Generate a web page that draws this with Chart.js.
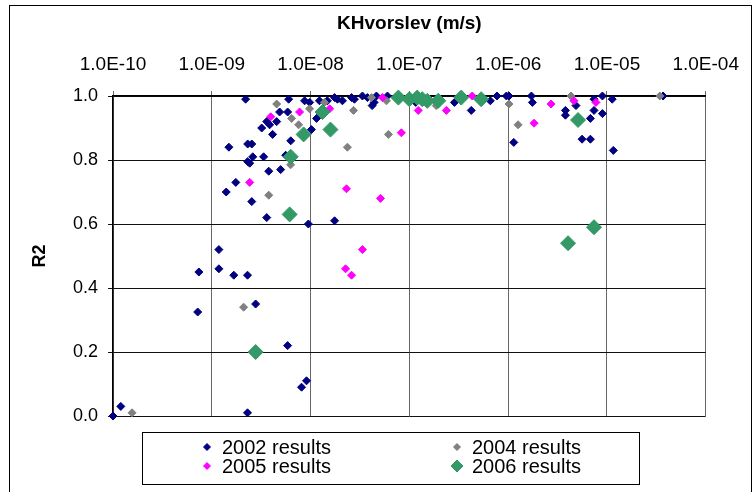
<!DOCTYPE html>
<html>
<head>
<meta charset="utf-8">
<script src="https://cdn.jsdelivr.net/npm/chart.js@4/dist/chart.umd.min.js"></script>
<style>
  html, body { margin: 0; padding: 0; background: #fff; }
  #wrap { width: 754px; height: 492px; }
</style>
</head>
<body>
<div id="wrap"><canvas id="c" width="754" height="492"></canvas></div>
<script>
// ---- data ----
const seriesNames = ['2002 results', '2004 results', '2005 results', '2006 results'];

const k2002 = [1e-10, 1.2e-10, 7.2e-10, 7.4e-10, 1.18e-9, 1.18e-9, 1.67e-9, 2.3e-9, 2.78e-9, 5.86e-9,
  8.1e-9, 9.1e-9, 2.3e-9, 1.4e-9, 1.49e-9, 1.75e-9, 2.54e-9, 3.6e-9, 9.5e-9, 1.75e-8,
  2.2e-9, 2.31e-9, 2.54e-9, 2.6e-9, 3.35e-9, 2.31e-9, 2.42e-9, 3.77e-9, 4.98e-9, 5.6e-9,
  6.3e-9, 4.13e-9, 3.2e-9, 3.6e-9, 3.85e-9, 4.54e-9, 4.86e-9, 5.86e-9, 1.02e-8, 1.15e-8,
  6.0e-9, 8.7e-9, 9.8e-9, 1.23e-8, 1.48e-8, 1.75e-8, 1.87e-8, 2.1e-8, 2.6e-8, 2.78e-8,
  3.35e-8, 3.77e-8, 4.2e-8, 4.4e-8, 4.64e-8, 6.0e-8, 1.16e-7, 2.86e-7, 4.23e-7, 6.6e-7,
  7.7e-7, 9.6e-7, 1.02e-6, 1.14e-6, 1.72e-6, 1.76e-6, 3.8e-6, 3.8e-6, 4.86e-6, 5.6e-6,
  6.8e-6, 6.8e-6, 7.4e-6, 7.4e-6, 9.0e-6, 9.0e-6, 1.13e-5, 1.16e-5, 3.7e-5];
const r2002 = [0.0, 0.03, 0.325, 0.45, 0.52, 0.46, 0.44, 0.44, 0.35, 0.22,
  0.09, 0.11, 0.01, 0.70, 0.84, 0.73, 0.67, 0.62, 0.60, 0.61,
  0.99, 0.85, 0.85, 0.81, 0.81, 0.795, 0.79, 0.765, 0.77, 0.815,
  0.86, 0.88, 0.90, 0.92, 0.91, 0.92, 0.95, 0.95, 0.895, 0.93,
  0.99, 0.985, 0.98, 0.985, 0.985, 0.995, 0.99, 0.985, 0.995, 0.99,
  1.0, 0.995, 0.97, 0.98, 1.0, 1.0, 0.98, 0.98, 0.955, 0.985,
  1.0, 1.0, 1.0, 0.855, 1.0, 0.98, 0.955, 0.94, 0.97, 0.865,
  0.865, 0.93, 0.99, 0.955, 1.0, 0.945, 0.99, 0.83, 1.0];

const k2004 = [1.56e-10, 2.1e-9, 3.77e-9, 4.54e-9, 6.28e-9, 6.43e-9, 7.57e-9, 9.77e-9, 1.38e-8, 2.36e-8,
  2.72e-8, 4.13e-8, 5.86e-8, 6.14e-8, 1.87e-7, 1.02e-6, 1.26e-6, 4.33e-6, 3.43e-5];
const r2004 = [0.01, 0.34, 0.69, 0.975, 0.785, 0.93, 0.91, 0.96, 0.98, 0.84,
  0.955, 0.995, 0.985, 0.88, 0.97, 0.975, 0.91, 1.0, 1.0];

const k2005 = [2.42e-9, 3.95e-9, 7.74e-9, 1.56e-8, 2.26e-8, 2.31e-8, 2.6e-8, 3.35e-8, 5.1e-8, 5.33e-8,
  8.3e-8, 1.23e-7, 2.37e-7, 4.33e-7, 1.83e-6, 2.72e-6, 4.64e-6, 7.74e-6];
const r2005 = [0.73, 0.935, 0.95, 0.96, 0.46, 0.71, 0.44, 0.52, 0.68, 0.995,
  0.885, 0.955, 0.955, 1.0, 0.915, 0.975, 0.985, 0.98];

const k2006 = [2.78e-9, 6.14e-9, 6.3e-9, 8.5e-9, 1.32e-8, 1.59e-8, 7.74e-8, 1.0e-7, 1.2e-7, 1.35e-7,
  1.52e-7, 1.96e-7, 3.35e-7, 5.33e-7, 4.04e-6, 5.1e-6, 7.4e-6];
const r2006 = [0.20, 0.63, 0.81, 0.88, 0.95, 0.895, 0.995, 0.99, 0.995, 0.99,
  0.985, 0.985, 0.995, 0.99, 0.54, 0.925, 0.59];

const xTickValues = [1e-10, 1e-9, 1e-8, 1e-7, 1e-6, 1e-5, 1e-4];
const xTickLabels = ['1.0E-10', '1.0E-09', '1.0E-08', '1.0E-07', '1.0E-06', '1.0E-05', '1.0E-04'];
const yTickLabels = ['0.0', '0.2', '0.4', '0.6', '0.8', '1.0'];

// ---- build ----
const pts = (xs, ys) => xs.map((x, i) => ({ x: x, y: ys[i] }));
const colors = ['#000080', '#808080', '#FF00FF', '#339966'];
const radii = [4, 4, 4, 7.5];
const FONT = '"Liberation Sans", Arial, sans-serif';

const datasets = [
  { label: seriesNames[0], data: pts(k2002, r2002) },
  { label: seriesNames[1], data: pts(k2004, r2004) },
  { label: seriesNames[2], data: pts(k2005, r2005) },
  { label: seriesNames[3], data: pts(k2006, r2006) }
].map((d, i) => Object.assign(d, {
  pointStyle: 'rectRot',
  pointRadius: radii[i],
  pointHoverRadius: radii[i],
  backgroundColor: colors[i],
  borderColor: colors[i],
  pointBorderWidth: 1,
  showLine: false,
  clip: false,
  order: 3 - i
}));

const framePlugin = {
  id: 'frameLegend',
  beforeDraw(chart) {
    const ctx = chart.ctx;
    ctx.save();
    ctx.fillStyle = '#fff';
    ctx.fillRect(0, 0, chart.width, chart.height);
    ctx.restore();
  },
  afterDraw(chart) {
    const ctx = chart.ctx;
    ctx.save();
    ctx.strokeStyle = '#000';
    ctx.lineWidth = 1;
    ctx.strokeRect(9.5, 5.5, 742, 520);
    // legend box
    ctx.strokeRect(142.5, 432.5, 497, 52);
    const cols = [207, 457];
    const rows = [447, 466];
    const lr = [3.5, 3.5, 3.5, 6];
    ctx.font = '20px ' + FONT;
    ctx.textBaseline = 'middle';
    ctx.textAlign = 'left';
    chart.data.datasets.forEach((ds, i) => {
      const cx = cols[i % 2], cy = rows[Math.floor(i / 2)];
      ctx.fillStyle = ds.backgroundColor;
      ctx.strokeStyle = ds.borderColor;
      Chart.helpers.drawPoint(ctx, { pointStyle: 'rectRot', radius: lr[i], borderWidth: 1, rotation: 0 }, cx, cy);
      ctx.fillStyle = '#000';
      ctx.fillText(ds.label, cx + 15, cy + 1);
    });
    ctx.restore();
  }
};

new Chart(document.getElementById('c'), {
  type: 'scatter',
  data: { datasets: datasets },
  options: {
    responsive: false,
    animation: false,
    events: [],
    layout: { padding: { left: 0, top: 0, right: 47, bottom: 76 } },
    plugins: { legend: { display: false }, tooltip: { enabled: false } },
    scales: {
      x: {
        type: 'logarithmic',
        position: 'top',
        min: 1e-10,
        max: 1e-4,
        afterBuildTicks: s => { s.ticks = xTickValues.map(v => ({ value: v })); },
        afterFit: s => { s.height = 96; },
        ticks: {
          autoSkip: false, maxRotation: 0, minRotation: 0,
          color: '#000', padding: 15,
          font: { family: FONT, size: 19 },
          callback: (v, i) => xTickLabels[i]
        },
        grid: { color: '#666', lineWidth: 1, tickLength: 5, drawTicks: true },
        border: { color: '#000', width: 1.5 },
        title: {
          display: true, text: 'KHvorslev (m/s)', color: '#000',
          font: { family: FONT, size: 19, weight: 'bold' },
          padding: { top: 12, bottom: 0 }
        }
      },
      y: {
        type: 'linear',
        min: 0, max: 1,
        afterFit: s => { s.width = 113; },
        ticks: {
          stepSize: 0.2, color: '#000', padding: 10,
          font: { family: FONT, size: 18 },
          callback: (v) => yTickLabels[Math.round(v / 0.2)]
        },
        grid: { color: '#111', lineWidth: 1, tickLength: 5, drawTicks: true },
        border: { color: '#000', width: 1.5 },
        title: {
          display: true, text: 'R2', color: '#000',
          font: { family: FONT, size: 18, weight: 'bold' },
          padding: { top: 29, bottom: 0 }
        }
      }
    }
  },
  plugins: [framePlugin]
});
</script>
</body>
</html>
